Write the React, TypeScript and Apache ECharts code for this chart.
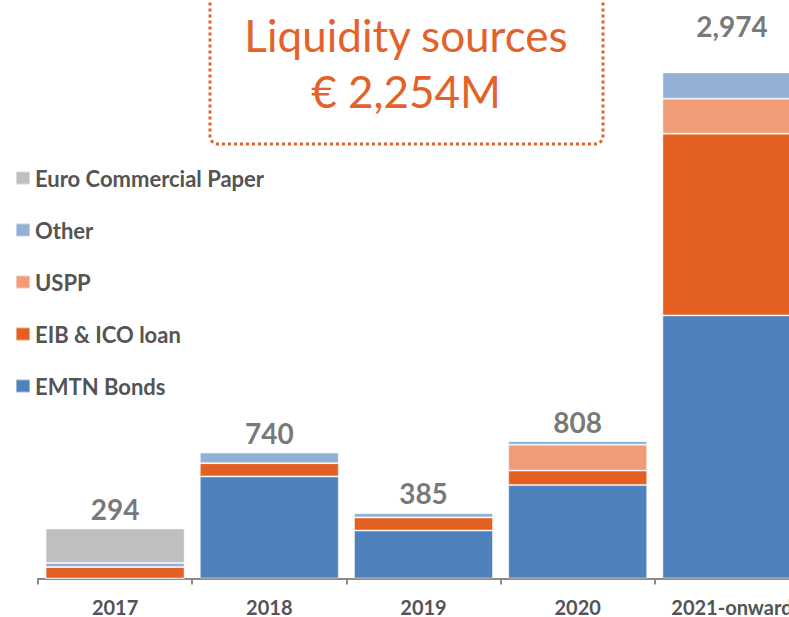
import React, { useEffect, useRef } from "react";
import * as echarts from "echarts";

const categories = ["2017", "2018", "2019", "2020", "2021-onward"];
const emtnBonds = [0, 600, 282, 549, 1546];
const eibIcoLoan = [67, 78, 77, 85, 1068];
const uspp = [0, 0, 0, 152, 206];
const other = [24, 62, 26, 22, 154];
const euroCommercialPaper = [203, 0, 0, 0, 0];
const totals = [294, 740, 385, 808, 2974];
const totalLabels = ["294", "740", "385", "808", "2,974"];

const TEXT = "#545454";
const FONT = "Lato";

export default function App() {
  const ref = useRef<HTMLDivElement>(null);
  useEffect(() => {
    if (!ref.current) return;
    const chart = echarts.init(ref.current, undefined, { renderer: "svg" });
    const barBase = {
      type: "bar",
      stack: "total",
      barWidth: 139,
      itemStyle: { borderColor: "rgba(255,255,255,0.45)", borderWidth: 1 },
      emphasis: { disabled: true },
    };
    chart.setOption({
      animation: false,
      backgroundColor: "#ffffff",
      grid: {
        left: 38,
        width: 771,
        top: 68,
        height: 510.5,
        containLabel: false,
        outerBoundsMode: "none",
      },
      legend: {
        orient: "vertical",
        left: 15,
        top: 167,
        padding: 0,
        itemWidth: 14,
        itemHeight: 13,
        itemGap: 30,
        icon: "rect",
        data: ["Euro Commercial Paper", "Other", "USPP", "EIB & ICO loan", "EMTN Bonds"],
        textStyle: { color: TEXT, fontFamily: FONT, fontWeight: "bold", fontSize: 22 },
      },
      xAxis: {
        type: "category",
        data: categories,
        axisLine: { lineStyle: { color: "#8a8a8a", width: 2 } },
        axisTick: { show: true, length: 6, lineStyle: { color: "#8a8a8a", width: 2 } },
        axisLabel: {
          interval: 0,
          color: TEXT,
          fontFamily: FONT,
          fontWeight: "bold",
          fontSize: 20,
          margin: 18,
        },
      },
      yAxis: {
        type: "value",
        min: 0,
        max: 3000,
        show: false,
        splitLine: { show: false },
      },
      series: [
        { ...barBase, name: "EMTN Bonds", data: emtnBonds, color: "#4F81BD" },
        { ...barBase, name: "EIB & ICO loan", data: eibIcoLoan, color: "#E35F22" },
        { ...barBase, name: "USPP", data: uspp, color: "#F09C78" },
        { ...barBase, name: "Other", data: other, color: "#93B1D6" },
        { ...barBase, name: "Euro Commercial Paper", data: euroCommercialPaper, color: "#BFBFBF" },
        {
          type: "scatter",
          name: "totals",
          symbolSize: 1,
          itemStyle: { color: "rgba(0,0,0,0)" },
          data: totals.map((v, i) => ({
            value: v,
            label: i === 4 ? { offset: [0, -27] } : {},
          })),
          label: {
            show: true,
            position: "top",
            distance: 5,
            color: TEXT,
            fontFamily: FONT,
            fontWeight: "bold",
            fontSize: 28,
            formatter: (p: any) => totalLabels[p.dataIndex],
          },
          emphasis: { disabled: true },
          tooltip: { show: false },
        },
      ],
      graphic: [
        {
          type: "rect",
          shape: { x: 210, y: -30, width: 393, height: 174, r: 8 },
          style: { fill: "none", stroke: "#E2622A", lineWidth: 3, lineDash: [3, 3] },
        },
        {
          type: "text",
          x: 406,
          y: 35,
          style: {
            text: "Liquidity sources",
            fill: "#E2622A",
            fontFamily: FONT,
            fontSize: 44,
            textAlign: "center",
            textVerticalAlign: "middle",
          },
        },
        {
          type: "text",
          x: 406,
          y: 91,
          style: {
            text: "€ 2,254M",
            fill: "#E2622A",
            fontFamily: FONT,
            fontSize: 44,
            textAlign: "center",
            textVerticalAlign: "middle",
          },
        },
      ],
    });
    return () => chart.dispose();
  }, []);
  return (
    <div
      ref={ref}
      style={{ position: "absolute", left: 0, top: 0, width: 789, height: 617 }}
    />
  );
}
